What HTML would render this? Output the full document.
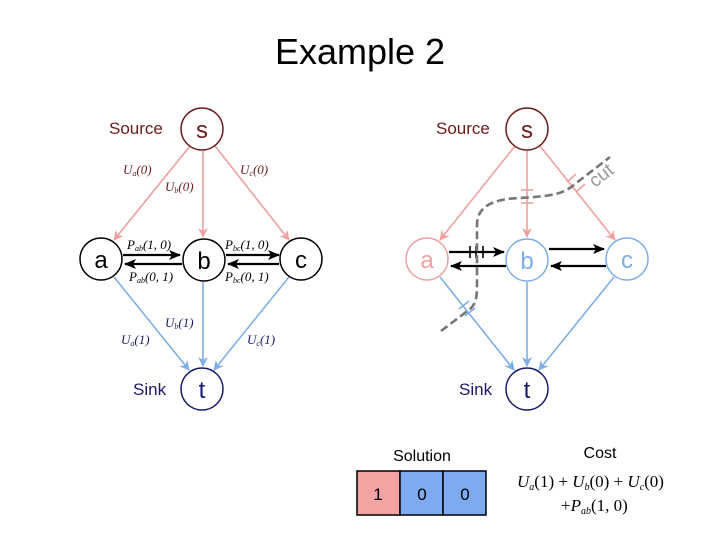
<!DOCTYPE html>
<html><head><style>
body{margin:0;background:#fff;width:720px;height:540px;overflow:hidden}
svg{display:block}
text{font-family:"Liberation Sans",sans-serif}
.m{font-family:"Liberation Serif",serif;font-style:italic;font-size:13px}
</style></head><body>
<svg width="720" height="540" viewBox="0 0 720 540">
<defs>
<marker id="pk" markerWidth="10" markerHeight="10" refX="9" refY="5" orient="auto" markerUnits="userSpaceOnUse"><path d="M0,0 L10,5 L0,10 L3,5z" fill="#f0a0a0"/></marker>
<marker id="bl" markerWidth="10" markerHeight="10" refX="9" refY="5" orient="auto" markerUnits="userSpaceOnUse"><path d="M0,0 L10,5 L0,10 L3,5z" fill="#7eaee8"/></marker>
<marker id="bk" markerWidth="12" markerHeight="10" refX="11" refY="5" orient="auto" markerUnits="userSpaceOnUse"><path d="M0,0 L12,5 L0,10 L3,5z" fill="#000"/></marker>
</defs>
<text x="360" y="64" font-size="36" text-anchor="middle" font-family="Liberation Sans">Example 2</text>

<!-- LEFT -->
<g stroke-width="1.6" fill="none">
<line x1="190" y1="146" x2="114" y2="240" stroke="#f0a0a0" marker-end="url(#pk)"/>
<line x1="203" y1="151" x2="203" y2="237" stroke="#f0a0a0" marker-end="url(#pk)"/>
<line x1="215" y1="146" x2="289" y2="240" stroke="#f0a0a0" marker-end="url(#pk)"/>
<line x1="114" y1="277" x2="189" y2="370" stroke="#7eaee8" marker-end="url(#bl)"/>
<line x1="203" y1="282" x2="203" y2="366" stroke="#7eaee8" marker-end="url(#bl)"/>
<line x1="289" y1="277" x2="214" y2="370" stroke="#7eaee8" marker-end="url(#bl)"/>
<g stroke="#000" stroke-width="2.2">
<line x1="123" y1="255" x2="180" y2="255" marker-end="url(#bk)"/>
<line x1="182" y1="264" x2="125" y2="264" marker-end="url(#bk)"/>
<line x1="226" y1="255" x2="279" y2="255" marker-end="url(#bk)"/>
<line x1="279" y1="264" x2="228" y2="264" marker-end="url(#bk)"/>
</g>
</g>
<g fill="#fff" stroke-width="1.5">
<circle cx="202" cy="129" r="21" stroke="#6b1a1a"/>
<circle cx="101" cy="259" r="21" stroke="#000"/>
<circle cx="204" cy="260" r="21" stroke="#000"/>
<circle cx="301" cy="259" r="21" stroke="#000"/>
<circle cx="202" cy="389" r="21" stroke="#1a1a6b"/>
</g>
<g font-size="24" text-anchor="middle">
<text x="202" y="138" fill="#6b1a1a">s</text>
<text x="101" y="268">a</text>
<text x="204" y="269">b</text>
<text x="301" y="268">c</text>
<text x="202" y="398" fill="#1a1a6b">t</text>
</g>
<text x="109" y="134" font-size="17" fill="#6b1a1a">Source</text>
<text x="133" y="395" font-size="17" fill="#1a1a6b">Sink</text>
<g class="m" fill="#6b1a1a">
<text class="m" x="123" y="174">U<tspan font-size="8" dy="2">a</tspan><tspan dy="-2">(0)</tspan></text>
<text class="m" x="165" y="191">U<tspan font-size="8" dy="2">b</tspan><tspan dy="-2">(0)</tspan></text>
<text class="m" x="240" y="174">U<tspan font-size="8" dy="2">c</tspan><tspan dy="-2">(0)</tspan></text>
</g>
<g fill="#000">
<text class="m" x="127" y="249">P<tspan font-size="8" dy="2">ab</tspan><tspan dy="-2">(1, 0)</tspan></text>
<text class="m" x="129" y="281">P<tspan font-size="8" dy="2">ab</tspan><tspan dy="-2">(0, 1)</tspan></text>
<text class="m" x="225" y="249">P<tspan font-size="8" dy="2">bc</tspan><tspan dy="-2">(1, 0)</tspan></text>
<text class="m" x="225" y="281">P<tspan font-size="8" dy="2">bc</tspan><tspan dy="-2">(0, 1)</tspan></text>
</g>
<g fill="#1a1a6b">
<text class="m" x="121" y="344">U<tspan font-size="8" dy="2">a</tspan><tspan dy="-2">(1)</tspan></text>
<text class="m" x="165" y="327">U<tspan font-size="8" dy="2">b</tspan><tspan dy="-2">(1)</tspan></text>
<text class="m" x="247" y="344">U<tspan font-size="8" dy="2">c</tspan><tspan dy="-2">(1)</tspan></text>
</g>

<!-- RIGHT -->
<g stroke-width="1.6" fill="none">
<line x1="515" y1="146" x2="440" y2="240" stroke="#f0a0a0" marker-end="url(#pk)"/>
<line x1="527" y1="151" x2="527" y2="237" stroke="#f0a0a0" marker-end="url(#pk)"/>
<line x1="540" y1="146" x2="615" y2="240" stroke="#f0a0a0" marker-end="url(#pk)"/>
<line x1="440" y1="277" x2="514" y2="370" stroke="#7eaee8" marker-end="url(#bl)"/>
<line x1="527" y1="282" x2="527" y2="366" stroke="#7eaee8" marker-end="url(#bl)"/>
<line x1="614" y1="277" x2="539" y2="370" stroke="#7eaee8" marker-end="url(#bl)"/>
<g stroke="#000" stroke-width="2.2">
<line x1="449" y1="252" x2="504" y2="252" marker-end="url(#bk)"/>
<line x1="506" y1="266" x2="451" y2="266" marker-end="url(#bk)"/>
<line x1="549" y1="249" x2="604" y2="249" marker-end="url(#bk)"/>
<line x1="606" y1="266" x2="551" y2="266" marker-end="url(#bk)"/>
</g>
<g stroke-width="1.6">
<line x1="470" y1="246" x2="470" y2="258" stroke="#000"/><line x1="476" y1="246" x2="476" y2="258" stroke="#000"/><line x1="483" y1="246" x2="483" y2="258" stroke="#000"/>
<line x1="521" y1="190" x2="533" y2="190" stroke="#f0a0a0"/><line x1="521" y1="203" x2="533" y2="203" stroke="#f0a0a0"/>
<line x1="567" y1="182" x2="576" y2="174" stroke="#f0a0a0"/><line x1="576" y1="192" x2="585" y2="184" stroke="#f0a0a0"/>
<line x1="459" y1="309" x2="469" y2="301" stroke="#7eaee8"/><line x1="465" y1="316" x2="475" y2="308" stroke="#7eaee8"/>
</g>
<path d="M441,331 L470,309 C477,303 477,295 477,280 L477,225 C477,208 490,199 520,198 C555,196 565,193 575,184 L610,157" stroke="#777" stroke-width="2.6" stroke-dasharray="8,4" fill="none"/>
</g>
<g fill="#fff" stroke-width="1.5">
<circle cx="527" cy="129" r="21" stroke="#6b1a1a"/>
<circle cx="427" cy="259" r="21" stroke="#f0a0a0"/>
<circle cx="527" cy="260" r="21" stroke="#7eaee8"/>
<circle cx="627" cy="259" r="21" stroke="#7eaee8"/>
<circle cx="527" cy="389" r="21" stroke="#1a1a6b"/>
</g>
<g font-size="24" text-anchor="middle">
<text x="527" y="138" fill="#6b1a1a">s</text>
<text x="427" y="268" fill="#f0a0a0">a</text>
<text x="527" y="269" fill="#7eaee8">b</text>
<text x="627" y="268" fill="#7eaee8">c</text>
<text x="527" y="398" fill="#1a1a6b">t</text>
</g>
<text x="436" y="134" font-size="17" fill="#6b1a1a">Source</text>
<text x="459" y="395" font-size="17" fill="#1a1a6b">Sink</text>
<text x="0" y="0" font-size="19" fill="#999" transform="translate(595,188) rotate(-38)">cut</text>

<!-- Solution -->
<text x="422" y="461" font-size="16" text-anchor="middle">Solution</text>
<rect x="357" y="471" width="43" height="44" fill="#f4a3a3" stroke="#000" stroke-width="1.5"/>
<rect x="400" y="471" width="43" height="44" fill="#7eaaf0" stroke="#000" stroke-width="1.5"/>
<rect x="443" y="471" width="43" height="44" fill="#7eaaf0" stroke="#000" stroke-width="1.5"/>
<g text-anchor="middle" style="font-size:17px"><text x="378" y="500">1</text><text x="422" y="500">0</text><text x="465" y="500">0</text></g>
<text x="600" y="458" font-size="16" text-anchor="middle">Cost</text>
<text x="517" y="487" class="m" style="font-size:17px">U<tspan style="font-size:10px" dy="3">a</tspan><tspan dy="-3" font-style="normal">(1) + </tspan>U<tspan style="font-size:10px" dy="3">b</tspan><tspan dy="-3" font-style="normal">(0) + </tspan>U<tspan style="font-size:10px" dy="3">c</tspan><tspan dy="-3" font-style="normal">(0)</tspan></text>
<text x="561" y="511" class="m" style="font-size:17px"><tspan font-style="normal">+</tspan>P<tspan style="font-size:10px" dy="3">ab</tspan><tspan dy="-3" font-style="normal">(1, 0)</tspan></text>
</svg>
</body></html>
